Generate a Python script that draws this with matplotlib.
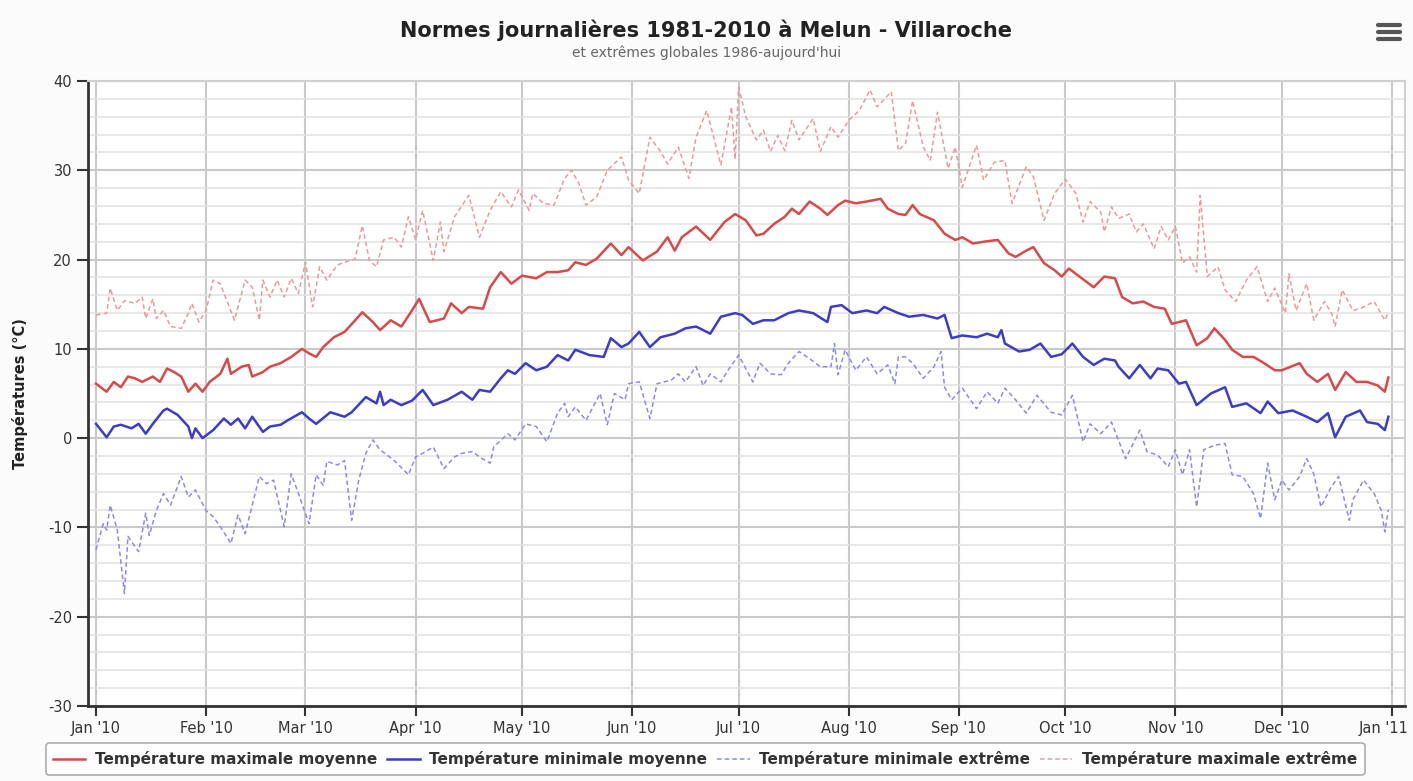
import numpy as np
import pandas as pd
import matplotlib
matplotlib.use('Agg')
import matplotlib.pyplot as plt
import matplotlib.dates as mdates
import matplotlib.transforms as mtransforms
from matplotlib.lines import Line2D

plt.rcParams['axes.unicode_minus'] = False

# Jours depuis le 1er janvier 2010 et valeurs (°C)
tmax_moy_jours = [0, 3, 5, 7, 9, 11, 13, 15, 16, 18, 20, 22, 24, 26, 28, 30, 32, 35, 37, 38, 41, 43, 44, 47, 49, 52, 55, 58, 60, 62, 64, 67, 70, 73, 75, 78, 80, 83, 86, 89, 91, 94, 98, 100, 103, 105, 109, 111, 114, 117, 120, 124, 127, 130, 133, 135, 138, 141, 145, 148, 150, 154, 158, 161, 163, 165, 169, 173, 177, 180, 183, 186, 188, 191, 194, 196, 198, 201, 204, 206, 209, 211, 214, 217, 221, 223, 226, 228, 230, 232, 236, 239, 242, 244, 247, 250, 254, 257, 259, 262, 264, 267, 270, 272, 274, 277, 281, 284, 287, 289, 292, 295, 298, 301, 303, 307, 310, 313, 315, 318, 320, 323, 326, 329, 332, 334, 339, 341, 344, 347, 349, 352, 355, 358, 361, 363, 364]
tmax_moy = [6.1, 5.2, 6.3, 5.7, 6.9, 6.7, 6.3, 6.7, 6.9, 6.3, 7.8, 7.4, 6.9, 5.2, 6.1, 5.2, 6.3, 7.2, 8.9, 7.2, 8.0, 8.2, 6.9, 7.4, 8.0, 8.4, 9.1, 10.0, 9.5, 9.1, 10.2, 11.3, 11.9, 13.2, 14.1, 13.0, 12.1, 13.2, 12.5, 14.3, 15.6, 13.0, 13.4, 15.1, 14.0, 14.7, 14.5, 16.9, 18.6, 17.3, 18.2, 17.9, 18.6, 18.6, 18.8, 19.7, 19.4, 20.1, 21.8, 20.5, 21.4, 19.9, 20.9, 22.5, 21.0, 22.5, 23.7, 22.2, 24.2, 25.1, 24.4, 22.7, 22.9, 24.0, 24.8, 25.7, 25.1, 26.5, 25.7, 25.0, 26.1, 26.6, 26.3, 26.5, 26.8, 25.7, 25.1, 25.0, 26.1, 25.1, 24.4, 22.9, 22.2, 22.5, 21.8, 22.0, 22.2, 20.7, 20.3, 21.0, 21.4, 19.6, 18.8, 18.1, 19.0, 18.1, 16.9, 18.1, 17.9, 15.8, 15.1, 15.3, 14.7, 14.5, 12.8, 13.2, 10.4, 11.2, 12.3, 11.0, 9.9, 9.1, 9.1, 8.4, 7.6, 7.6, 8.4, 7.2, 6.3, 7.2, 5.4, 7.4, 6.3, 6.3, 5.9, 5.2, 6.8]

tmin_moy_jours = [0, 3, 5, 7, 10, 12, 14, 16, 19, 20, 23, 26, 27, 28, 30, 33, 36, 38, 40, 42, 44, 47, 49, 52, 54, 58, 60, 62, 66, 70, 72, 76, 79, 80, 81, 83, 86, 89, 92, 95, 99, 103, 106, 108, 111, 114, 116, 118, 121, 124, 127, 130, 133, 135, 139, 143, 145, 148, 150, 153, 156, 159, 163, 166, 169, 173, 176, 180, 182, 185, 188, 191, 195, 198, 202, 206, 207, 210, 213, 217, 220, 222, 226, 229, 233, 237, 239, 241, 244, 248, 251, 254, 255, 256, 260, 263, 266, 269, 272, 275, 278, 281, 284, 287, 288, 291, 294, 297, 299, 302, 305, 307, 310, 314, 318, 320, 324, 328, 330, 333, 337, 341, 344, 347, 349, 352, 356, 358, 361, 363, 364]
tmin_moy = [1.6, 0.1, 1.3, 1.5, 1.1, 1.6, 0.5, 1.6, 3.1, 3.3, 2.6, 1.3, 0.0, 1.1, 0.0, 0.9, 2.2, 1.5, 2.2, 1.1, 2.4, 0.7, 1.3, 1.5, 2.0, 2.9, 2.2, 1.6, 2.9, 2.4, 2.9, 4.6, 3.9, 5.2, 3.7, 4.3, 3.7, 4.2, 5.4, 3.7, 4.3, 5.2, 4.3, 5.4, 5.2, 6.7, 7.6, 7.2, 8.4, 7.6, 8.0, 9.3, 8.7, 9.9, 9.3, 9.1, 11.2, 10.2, 10.6, 11.9, 10.2, 11.3, 11.7, 12.3, 12.5, 11.7, 13.6, 14.0, 13.8, 12.8, 13.2, 13.2, 14.0, 14.3, 14.0, 13.0, 14.7, 14.9, 14.0, 14.3, 14.0, 14.7, 14.0, 13.6, 13.8, 13.4, 13.8, 11.2, 11.5, 11.3, 11.7, 11.3, 12.1, 10.6, 9.7, 9.9, 10.6, 9.1, 9.4, 10.6, 9.1, 8.2, 8.9, 8.7, 8.0, 6.7, 8.2, 6.7, 7.8, 7.6, 6.1, 6.3, 3.7, 5.0, 5.7, 3.5, 3.9, 2.8, 4.1, 2.8, 3.1, 2.4, 1.8, 2.8, 0.1, 2.4, 3.1, 1.8, 1.6, 0.9, 2.4]

tmin_ext_jours = [0, 2, 3, 4, 6, 8, 9, 10, 12, 14, 15, 17, 19, 21, 24, 26, 28, 31, 33, 35, 38, 40, 42, 46, 48, 50, 53, 55, 57, 60, 62, 64, 65, 68, 70, 72, 74, 76, 78, 80, 84, 88, 90, 92, 95, 98, 101, 103, 106, 108, 111, 112, 116, 118, 121, 124, 127, 130, 132, 133, 135, 138, 140, 142, 144, 146, 149, 150, 153, 156, 158, 162, 164, 166, 169, 171, 173, 176, 178, 181, 185, 187, 190, 193, 195, 198, 201, 204, 207, 208, 209, 211, 214, 217, 220, 223, 225, 226, 228, 230, 233, 236, 238, 239, 241, 244, 248, 251, 254, 256, 259, 262, 265, 269, 272, 275, 278, 280, 283, 286, 290, 294, 296, 299, 302, 304, 306, 308, 310, 312, 315, 318, 320, 323, 326, 328, 330, 332, 334, 336, 339, 341, 343, 345, 348, 350, 353, 354, 357, 360, 362, 363, 364]
tmin_ext = [-12.5, -9.6, -10.3, -7.5, -10.3, -17.4, -11.0, -11.6, -12.7, -8.4, -10.9, -8.1, -6.2, -7.5, -4.3, -6.6, -5.8, -8.1, -8.8, -9.9, -11.8, -8.6, -10.7, -4.3, -5.1, -4.7, -9.9, -4.0, -6.2, -9.6, -4.1, -5.3, -2.6, -3.0, -2.5, -9.2, -4.7, -1.7, -0.2, -1.3, -2.5, -4.1, -2.1, -1.7, -1.0, -3.4, -2.1, -1.7, -1.5, -2.1, -2.8, -1.0, 0.5, -0.2, 1.6, 1.3, -0.4, 2.8, 3.9, 2.4, 3.5, 2.0, 3.5, 5.0, 1.5, 5.0, 4.3, 6.1, 6.3, 2.2, 6.1, 6.5, 7.2, 6.3, 8.0, 5.9, 7.2, 6.3, 7.6, 9.3, 6.3, 8.4, 7.2, 7.1, 8.4, 9.7, 8.9, 8.0, 8.0, 10.6, 7.1, 9.9, 7.6, 9.1, 7.2, 8.2, 6.1, 9.1, 9.1, 8.4, 6.7, 8.0, 9.7, 5.7, 4.3, 5.6, 3.3, 5.2, 3.9, 5.6, 4.3, 2.8, 4.8, 2.9, 2.6, 4.8, -0.4, 1.6, 0.5, 1.8, -2.3, 0.9, -1.5, -1.9, -3.2, -1.3, -4.1, -1.3, -7.7, -1.3, -0.8, -0.6, -4.1, -4.3, -6.2, -9.0, -2.8, -6.9, -4.7, -5.8, -4.3, -2.3, -4.0, -7.7, -5.4, -4.3, -9.2, -6.9, -4.7, -6.2, -8.1, -10.5, -8.0]

tmax_ext_jours = [0, 3, 4, 6, 8, 11, 13, 14, 16, 17, 19, 21, 24, 26, 27, 29, 31, 33, 35, 39, 42, 44, 46, 47, 49, 51, 53, 55, 57, 59, 61, 63, 65, 68, 70, 73, 75, 77, 79, 81, 84, 86, 88, 90, 92, 95, 97, 98, 101, 105, 108, 111, 114, 117, 119, 122, 123, 126, 129, 132, 134, 136, 138, 141, 144, 148, 150, 153, 156, 159, 161, 164, 167, 169, 172, 176, 179, 180, 181, 183, 186, 188, 190, 192, 194, 196, 198, 202, 204, 207, 209, 212, 215, 218, 220, 224, 226, 228, 230, 233, 235, 237, 240, 242, 244, 248, 250, 253, 256, 258, 262, 264, 267, 270, 273, 276, 278, 280, 283, 284, 286, 288, 291, 293, 295, 298, 300, 302, 304, 306, 308, 310, 311, 313, 316, 318, 321, 324, 327, 330, 332, 335, 336, 338, 341, 343, 346, 348, 349, 351, 354, 356, 360, 363, 364]
tmax_ext = [13.8, 14.0, 16.8, 14.3, 15.4, 15.1, 15.8, 13.4, 15.6, 13.4, 14.3, 12.5, 12.3, 14.0, 15.1, 13.0, 14.3, 17.7, 17.3, 13.2, 17.7, 16.9, 13.2, 17.7, 15.8, 17.7, 15.8, 17.9, 16.2, 19.7, 14.7, 19.2, 17.7, 19.4, 19.7, 20.1, 23.8, 19.9, 19.2, 22.2, 22.5, 21.4, 24.8, 22.2, 25.5, 19.9, 24.2, 20.9, 24.8, 27.2, 22.5, 25.5, 27.6, 25.9, 27.8, 25.5, 27.4, 26.3, 26.1, 29.1, 30.0, 28.5, 26.1, 27.0, 30.0, 31.5, 28.9, 27.4, 33.7, 32.1, 30.7, 32.6, 29.1, 33.7, 36.7, 30.6, 37.1, 31.2, 39.3, 36.0, 33.4, 34.5, 32.1, 33.9, 32.2, 35.6, 33.4, 35.8, 32.1, 34.9, 33.7, 35.6, 36.7, 39.0, 37.1, 38.8, 32.2, 33.0, 37.8, 32.6, 31.1, 36.5, 30.2, 32.6, 28.1, 32.8, 28.9, 30.9, 31.1, 26.3, 30.4, 29.3, 24.4, 27.4, 29.0, 27.4, 24.2, 26.5, 25.3, 23.1, 25.9, 24.6, 25.1, 23.1, 24.0, 21.2, 23.7, 22.2, 23.7, 19.6, 20.3, 18.6, 27.2, 18.1, 19.2, 16.6, 15.3, 17.7, 19.2, 15.3, 16.8, 14.0, 18.4, 14.3, 17.3, 13.2, 15.3, 14.0, 12.5, 16.6, 14.3, 14.5, 15.3, 13.2, 14.1]

labels = ['Température maximale moyenne', 'Température minimale moyenne',
          'Température minimale extrême', 'Température maximale extrême']

debut = pd.Timestamp('2010-01-01')


def dates(jours):
    return debut + pd.to_timedelta(jours, unit='D')


fig = plt.figure(figsize=(14.13, 7.81), dpi=100, facecolor='#fbfbfb')
ax = fig.add_axes([0.0623, 0.096, 0.932, 0.8003])
ax.set_facecolor('white')

c_max = '#d84a4a'
c_min = '#3c3cc8'
c_min_ext = '#8a8ae6'
c_max_ext = '#eb9a9a'

ax.plot(dates(tmax_ext_jours), tmax_ext, color=c_max_ext, lw=1.1, ls=(0, (3, 2)), zorder=3)
ax.plot(dates(tmin_ext_jours), tmin_ext, color=c_min_ext, lw=1.1, ls=(0, (3, 2)), zorder=3)
ax.plot(dates(tmax_moy_jours), tmax_moy, color=c_max, lw=1.8, zorder=4)
ax.plot(dates(tmin_moy_jours), tmin_moy, color=c_min, lw=1.8, zorder=4)

ax.set_ylim(-30, 40)
ax.set_xlim(pd.Timestamp('2009-12-29 18:00'), pd.Timestamp('2011-01-04 16:00'))
ax.set_yticks(np.arange(-30, 41, 10))
ax.set_yticks(np.arange(-30, 41, 2), minor=True)
ax.xaxis.set_major_locator(mdates.MonthLocator())
ax.xaxis.set_major_formatter(mdates.DateFormatter("%b '%y"))

ax.grid(True, which='major', axis='both', color='#c9c9c9', lw=1.5, zorder=0)
ax.grid(True, which='minor', axis='y', color='#e2e2e2', lw=1.1, zorder=0)
ax.set_axisbelow(True)

for s in ['top', 'right']:
    ax.spines[s].set_color('#d0d0d0')
    ax.spines[s].set_linewidth(1.5)
for s in ['left', 'bottom']:
    ax.spines[s].set_color('#333333')
    ax.spines[s].set_linewidth(2)

ax.tick_params(axis='y', which='major', length=8, width=1.5, color='#333333',
               labelsize=10.5, labelcolor='#333333')
ax.tick_params(axis='y', which='minor', length=0)
ax.tick_params(axis='x', which='major', length=7, width=1.5, color='#333333',
               labelsize=10.5, labelcolor='#333333')

# dernière étiquette "Jan '11" un peu décalée pour rester dans l'image
fig.canvas.draw()
dernier = ax.get_xticklabels()[-1]
dernier.set_transform(dernier.get_transform() +
                      mtransforms.ScaledTranslation(-8 / 100, 0, fig.dpi_scale_trans))

ax.set_ylabel('Températures (°C)', fontsize=10.5, fontweight='bold', color='#222222', labelpad=14)

fig.text(0.5, 1 - 30 / 781, 'Normes journalières 1981-2010 à Melun - Villaroche',
         ha='center', va='center', fontsize=15, fontweight='bold', color='#222222')
fig.text(0.5, 1 - 53 / 781, "et extrêmes globales 1986-aujourd'hui",
         ha='center', va='center', fontsize=10, color='#666666')

# icône menu
for yy in [25, 32, 39]:
    fig.add_artist(Line2D([1378 / 1413, 1400 / 1413], [1 - yy / 781, 1 - yy / 781],
                          color='#555555', lw=3, solid_capstyle='round'))

handles = [
    Line2D([], [], color=c_max, lw=1.8),
    Line2D([], [], color=c_min, lw=1.8),
    Line2D([], [], color=c_min_ext, lw=1.1, ls=(0, (3, 2))),
    Line2D([], [], color=c_max_ext, lw=1.1, ls=(0, (3, 2))),
]
leg = fig.legend(handles, labels, loc='center', bbox_to_anchor=(0.499, 1 - 759 / 781),
                 ncol=4, frameon=True, fancybox=True, fontsize=11, handlelength=2.1,
                 handletextpad=0.6, columnspacing=0.7, borderpad=0.5)
leg.get_frame().set_edgecolor('#999999')
leg.get_frame().set_linewidth(1.2)
for t in leg.get_texts():
    t.set_fontweight('bold')
    t.set_color('#333333')

fig.savefig('out.png', dpi=100, facecolor=fig.get_facecolor())
